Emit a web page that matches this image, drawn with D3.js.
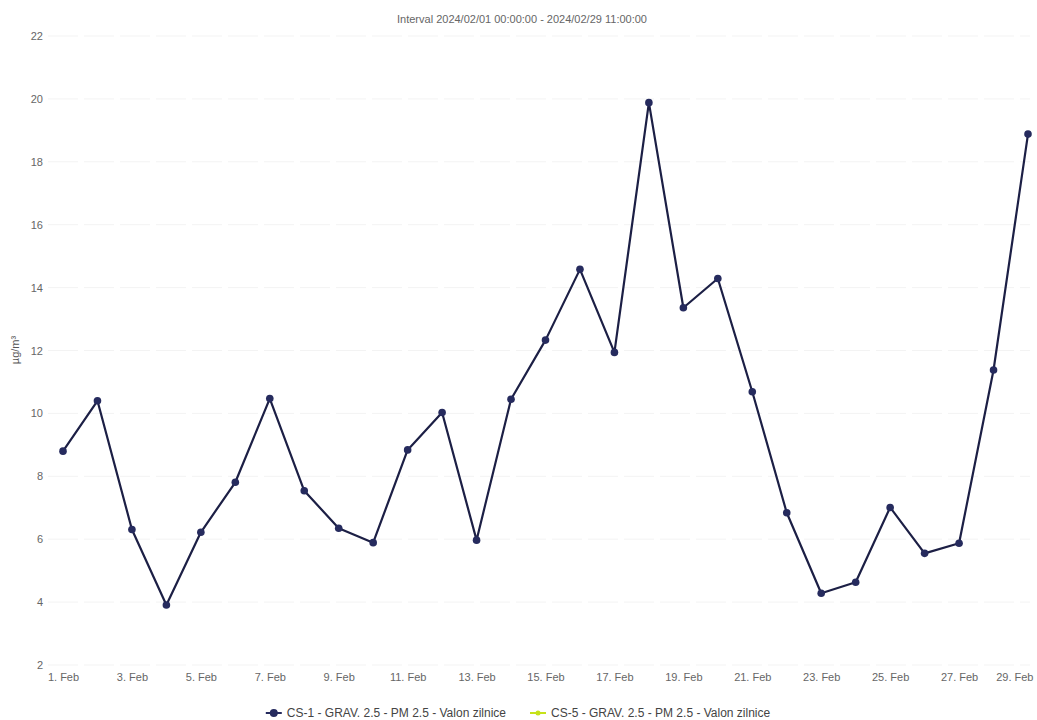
<!DOCTYPE html>
<html>
<head>
<meta charset="utf-8">
<script src="https://cdn.jsdelivr.net/npm/d3@7"></script>
<style>
  html, body { margin: 0; padding: 0; background: #fff; }
  svg { display: block; font-family: "Liberation Sans", Arial, sans-serif; }
</style>
</head>
<body>
<svg id="chart" width="1037" height="720"></svg>
<script>
const days = [1,2,3,4,5,6,7,8,9,10,11,12,13,14,15,16,17,18,19,20,21,22,23,24,25,26,27,28,29];
const cs1Values = [8.80,10.40,6.31,3.91,6.22,7.81,10.47,7.54,6.35,5.89,8.84,10.03,5.97,10.45,12.33,14.58,11.94,19.88,13.36,14.29,10.69,6.84,4.28,4.63,7.01,5.55,5.87,11.38,18.88];
const cs5Values = [];
const yTicks = [2,4,6,8,10,12,14,16,18,20,22];
const xTickDays = [1,3,5,7,9,11,13,15,17,19,21,23,25,27,29];
const titleText = "Interval 2024/02/01 00:00:00 - 2024/02/29 11:00:00";
const yAxisTitle = "µg/m³";
const seriesNames = ["CS-1 - GRAV. 2.5 - PM 2.5 - Valon zilnice", "CS-5 - GRAV. 2.5 - PM 2.5 - Valon zilnice"];
const seriesColors = ["#262b5e", "#c6e21a"];

const svg = d3.select("#chart");
const plotLeft = 63, plotRight = 1028, plotTop = 36, plotBottom = 665;

const x = d3.scaleLinear().domain([1, 29]).range([plotLeft, plotRight]);
const y = d3.scaleLinear().domain([2, 22]).range([plotBottom, plotTop]);

// gridlines
svg.append("g").selectAll("line").data(yTicks).join("line")
  .attr("x1", 48).attr("x2", 1030)
  .attr("y1", d => y(d)).attr("y2", d => y(d))
  .attr("stroke", "#f3f3f3").attr("stroke-width", 1)
  .attr("stroke-dasharray", "30,6");

// y axis labels
const yAxis = d3.axisLeft(y).tickValues(yTicks).tickSize(0).tickPadding(0);
const yg = svg.append("g").attr("transform", "translate(43,0)").call(yAxis);
yg.select(".domain").remove();
yg.selectAll("text").attr("fill", "#666").attr("font-size", 11)
  .attr("font-family", "Liberation Sans, Arial, sans-serif");

// x axis labels
const xAxis = d3.axisBottom(x).tickValues(xTickDays).tickSize(0).tickPadding(0)
  .tickFormat(d => d + ". Feb");
const xg = svg.append("g").attr("transform", "translate(0,673)").call(xAxis);
xg.select(".domain").remove();
xg.selectAll("text").attr("fill", "#666").attr("font-size", 11)
  .attr("font-family", "Liberation Sans, Arial, sans-serif");
// keep last label inside the picture
xg.selectAll(".tick").filter(d => d === 29).select("text")
  .attr("text-anchor", "end").attr("x", 1033 - x(29));

// title
svg.append("text").attr("x", 522).attr("y", 23).attr("text-anchor", "middle")
  .attr("font-size", 11).attr("fill", "#666").text(titleText);

// y axis title
svg.append("text").attr("transform", "translate(19,350) rotate(-90)")
  .attr("text-anchor", "middle").attr("font-size", 11).attr("fill", "#555")
  .text(yAxisTitle);

// line
const line = d3.line().x((d, i) => x(days[i])).y(d => y(d));
svg.append("path").datum(cs1Values).attr("d", line)
  .attr("fill", "none").attr("stroke", "#1c1f45").attr("stroke-width", 2.2)
  .attr("stroke-linejoin", "round");

svg.append("g").selectAll("circle").data(cs1Values).join("circle")
  .attr("cx", (d, i) => x(days[i])).attr("cy", d => y(d)).attr("r", 3.8)
  .attr("fill", seriesColors[0]);

// legend (centered)
const lg = svg.append("g");
const items = seriesNames.map((name, i) => {
  const g = lg.append("g");
  g.append("line").attr("x1", -8).attr("x2", 8).attr("y1", 0).attr("y2", 0)
    .attr("stroke", seriesColors[i]).attr("stroke-width", 2);
  g.append("circle").attr("r", i === 0 ? 4 : 2.5).attr("fill", seriesColors[i]);
  const t = g.append("text").attr("x", 13).attr("y", 4).attr("font-size", 12)
    .attr("fill", "#444").text(name);
  return {g, w: 21 + t.node().getComputedTextLength()};
});
const gap = 24;
const totalW = d3.sum(items, d => d.w) + gap * (items.length - 1);
let cx = 518 - totalW / 2;
items.forEach(it => {
  it.g.attr("transform", `translate(${cx + 8},713)`);
  cx += it.w + gap;
});
</script>
</body>
</html>
